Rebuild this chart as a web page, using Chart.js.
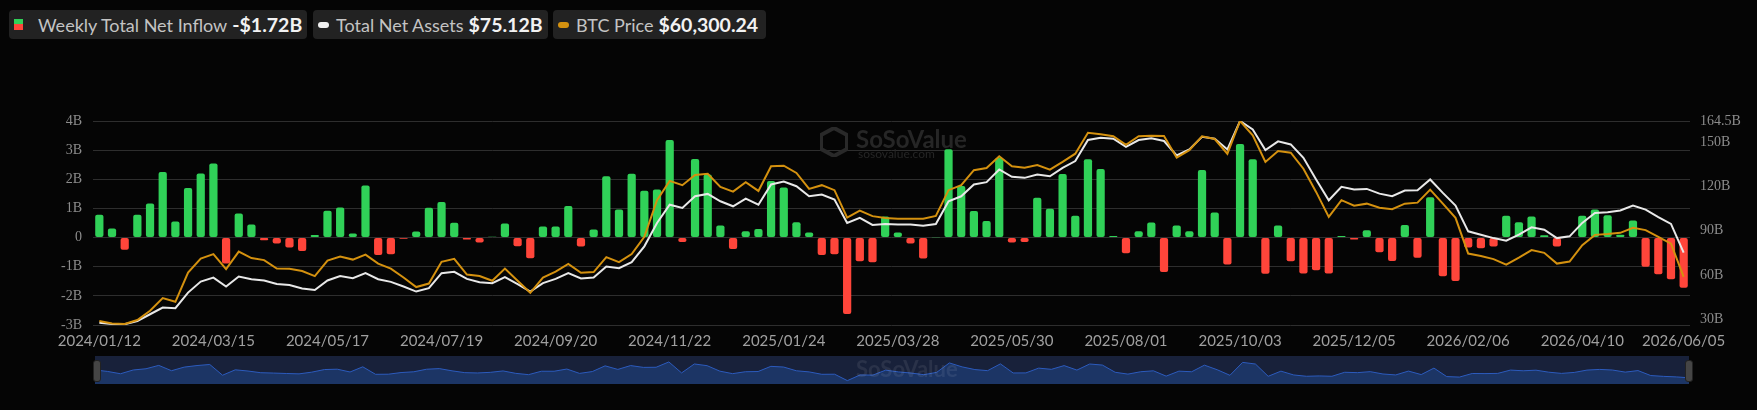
<!DOCTYPE html>
<html>
<head>
<meta charset="utf-8">
<script src="https://cdn.jsdelivr.net/npm/chart.js@4.4.1/dist/chart.umd.min.js"></script>
<style>
  html, body { margin: 0; padding: 0; background: #050505; width: 1757px; height: 410px; overflow: hidden; font-family: Lato, "Open Sans", sans-serif; }
  .item { position: absolute; top: 10px; height: 29px; background: #222; border-radius: 4px; display: flex; align-items: center; color: #c4c4c4; font-size: 18px; white-space: nowrap; }
  .item b { color: #f2f2f2; font-size: 19.5px; margin-left: 5px; }
  .sq { width: 9px; height: 11px; margin: 0 15px 0 5px; background: linear-gradient(#30d158 50%, #ff453a 50%); }
  .pill { width: 11px; height: 6px; border-radius: 3px; margin: 0 7px 0 5px; }
  #main { position: absolute; left: 0; top: 0; }
  .wm { position: absolute; color: #262626; font-weight: bold; }
  #slider { position: absolute; left: 95px; top: 356px; width: 1594px; height: 28px; background: #18213a; }
  .handle { position: absolute; top: 360px; width: 6px; height: 20px; background: #454545; border: 1px solid #222; border-radius: 3px; }
</style>
</head>
<body>
<div class="item" style="left:9px;width:298px"><span class="sq"></span>Weekly Total Net Inflow<b>-$1.72B</b></div>
<div class="item" style="left:313px;width:235px"><span class="pill" style="background:#f0f0f0"></span>Total Net Assets<b>$75.12B</b></div>
<div class="item" style="left:553px;width:213px"><span class="pill" style="background:#d4910f"></span>BTC Price<b>$60,300.24</b></div>

<canvas id="main" width="1757" height="360"></canvas>
<svg style="position:absolute;left:820px;top:127px" width="28" height="30" viewBox="0 0 28 30">
  <path d="M14 1 L27 8 L27 22 L14 29 L1 22 L1 8 Z" fill="none" stroke="#292929" stroke-width="4"/>
</svg>
<div class="wm" style="left:856px;top:124px;font-size:24px">SoSoValue</div>
<div class="wm" style="left:858px;top:146px;font-size:12px;font-weight:normal">sosovalue.com</div>

<div id="slider"><canvas id="mini" width="1594" height="28"></canvas></div>
<div class="wm" style="left:856px;top:355px;font-size:22px;color:rgba(255,255,255,0.08)">SoSoValue</div>
<div class="handle" style="left:93px"></div>
<div class="handle" style="left:1685px"></div>

<script>
// weekly dates from 2024/01/12 to 2026/06/05
const startDate = new Date(Date.UTC(2024, 0, 12));
const weekCount = 126;
const weeks = [];
for (let i = 0; i < weekCount; i++) {
    const d = new Date(startDate.getTime() + i * 7 * 86400000);
    weeks.push(d.getUTCFullYear() + '/' + String(d.getUTCMonth() + 1).padStart(2, '0') + '/' + String(d.getUTCDate()).padStart(2, '0'));
}

const tickLabels = ['2024/01/12', '2024/03/15', '2024/05/17', '2024/07/19', '2024/09/20', '2024/11/22',
    '2025/01/24', '2025/03/28', '2025/05/30', '2025/08/01', '2025/10/03', '2025/12/05',
    '2026/02/06', '2026/04/10', '2026/06/05'];

// weekly total net inflow, billions USD
const netInflow = [
    0.78, 0.31, -0.42, 0.78, 1.17, 2.25, 0.55, 1.70, 2.20, 2.54, -0.89, 0.83, 0.45, -0.09, -0.20, -0.34, -0.46, 0.09,
    0.92, 1.03, 0.14, 1.79, -0.60, -0.57, -0.04, 0.21, 1.02, 1.22, 0.51, -0.07, -0.17, 0.03, 0.48, -0.30, -0.71,
    0.38, 0.38, 1.08, -0.31, 0.28, 2.10, 0.96, 2.19, 1.61, 1.65, 3.35, -0.15, 2.70, 2.16, 0.41, -0.39, 0.22, 0.29,
    1.94, 1.72, 0.53, 0.17, -0.60, -0.57, -2.62, -0.81, -0.85, 0.72, 0.17, -0.20, -0.72, 0.01, 3.03,
    1.77, 0.91, 0.57, 2.73, -0.17, -0.15, 1.37, 0.99, 2.18, 0.75, 2.69, 2.35, 0.05, -0.54, 0.22, 0.52, -1.18,
    0.41, 0.22, 2.32, 0.86, -0.92, 3.21, 2.69, -1.24, 0.41, -0.81, -1.23, -1.12, -1.23, 0.05, -0.07, 0.25,
    -0.50, -0.80, 0.43, -0.69, 1.38, -1.33, -1.49, -0.34, -0.37, -0.31, 0.75, 0.53, 0.72, 0.08, -0.31, 0.00,
    0.75, 0.96, 0.77, 0.10, 0.59, -1.00, -1.26, -1.43, -1.72
];

// total net assets, billions USD
const totalNetAssets = [
    27.6, 26.7, 26.5, 28.7, 33.3, 37.8, 37.4, 48.0, 55.5, 58.2, 52.1, 58.9, 57.1, 56.2, 53.9, 53.2, 50.8, 49.8,
    56.2, 59.2, 57.8, 61.2, 57.1, 55.3, 52.1, 48.7, 51.0, 61.2, 62.1, 57.3, 55.1, 54.4, 58.5, 53.7, 48.7,
    54.4, 57.3, 61.2, 57.6, 58.2, 65.7, 64.6, 68.7, 79.4, 95.3, 107.7, 105.5, 113.4, 115.0, 110.0, 106.6, 111.8, 107.7,
    121.4, 123.4, 120.2, 113.4, 114.6, 111.2, 95.3, 98.7, 93.9, 94.6, 94.3, 94.3, 93.4, 94.6, 110.0,
    113.4, 121.4, 123.0, 131.6, 126.6, 125.9, 128.2, 127.0, 132.7, 137.3, 151.6, 153.2, 152.5, 147.0, 151.6, 152.7, 150.9,
    141.1, 145.2, 153.8, 152.5, 145.2, 164.5, 158.8, 144.8, 150.7, 148.6, 139.5, 124.8, 110.7, 119.8, 118.0, 118.4,
    115.2, 113.4, 117.3, 117.5, 124.8, 115.7, 107.1, 89.6, 87.3, 85.0, 83.2, 87.3, 92.3, 90.7, 85.0, 86.2,
    95.3, 102.1, 102.5, 103.7, 107.1, 104.3, 99.3, 94.6, 75.1
];

// BTC weekly price, USD
const btcPrice = [
    42600, 41600, 41400, 43000, 46700, 51800, 50300, 62000, 67600, 69400, 63400, 70400, 67800, 67000, 63600, 63500, 62600, 60600,
    66800, 68400, 67200, 69200, 65600, 63600, 60000, 56200, 57600, 66300, 67500, 61200, 60600, 58700, 63600, 58700, 53900,
    60000, 62400, 65500, 61900, 62200, 68200, 66200, 69400, 76300, 91000, 98700, 97000, 101100, 101600, 96300, 94400, 98200, 94700,
    104600, 104800, 101900, 95500, 97000, 95000, 84000, 86800, 84600, 83900, 83600, 83600, 83600, 84700, 95000,
    97000, 103000, 103900, 108600, 104600, 104000, 105100, 103200, 106300, 109600, 118000, 117400, 116600, 113200, 116600, 116800, 116700,
    108000, 111000, 116600, 115500, 109600, 122700, 117000, 106300, 110700, 110000, 103600, 94300, 84300, 91000, 88800, 89600,
    88000, 87400, 89600, 90000, 95200, 89600, 83900, 69600, 68600, 67400, 65200, 68000, 71000, 69900, 65600, 66400,
    73000, 77100, 77400, 77900, 79900, 79000, 76300, 73600, 60300
];

const rightTicks = [30, 60, 90, 120, 150, 164.5];

const upColor = '#30d158';
const downColor = '#ff453a';
const tnaColor = '#e8e8e8';
const btcColor = '#d4910f';

const serifTick = { family: '"Liberation Serif", "Times New Roman", serif', size: 14 };

new Chart(document.getElementById('main'), {
    data: {
        labels: weeks,
        datasets: [
            {
                type: 'line',
                label: 'BTC Price',
                data: btcPrice,
                yAxisID: 'yBtc',
                borderColor: btcColor,
                borderWidth: 2,
                pointRadius: 0,
                tension: 0,
                order: 1
            },
            {
                type: 'line',
                label: 'Total Net Assets',
                data: totalNetAssets,
                yAxisID: 'yAssets',
                borderColor: tnaColor,
                borderWidth: 2,
                pointRadius: 0,
                tension: 0,
                order: 2
            },
            {
                type: 'bar',
                label: 'Weekly Total Net Inflow',
                data: netInflow,
                yAxisID: 'y',
                backgroundColor: netInflow.map(v => v >= 0 ? upColor : downColor),
                borderRadius: 2,
                borderSkipped: false,
                barPercentage: 0.65,
                categoryPercentage: 1,
                order: 3
            }
        ]
    },
    options: {
        responsive: false,
        animation: false,
        devicePixelRatio: 1,
        layout: { padding: { top: 121, left: 0, right: 0, bottom: 0 } },
        plugins: { legend: { display: false }, tooltip: { enabled: false } },
        scales: {
            x: {
                offset: true,
                grid: { display: false, drawTicks: false },
                border: { display: false },
                afterFit: s => { s.height = 35; },
                ticks: {
                    autoSkip: false,
                    maxRotation: 0,
                    padding: 7,
                    color: '#a0a0a0',
                    font: { family: 'Lato, "Open Sans", sans-serif', size: 15 },
                    callback: function (v) {
                        const lab = weeks[v];
                        return tickLabels.includes(lab) ? lab : '';
                    }
                }
            },
            y: {
                position: 'left',
                min: -3,
                max: 4,
                afterFit: s => { s.width = 93; },
                grid: { color: '#2e2e2e', lineWidth: 1, drawTicks: false },
                border: { display: false },
                ticks: {
                    stepSize: 1,
                    padding: 11,
                    color: '#8c8c8c',
                    font: serifTick,
                    callback: v => v === 0 ? '0' : v + 'B'
                }
            },
            yAssets: {
                position: 'right',
                min: 26,
                max: 164.5,
                afterFit: s => { s.width = 67; },
                afterBuildTicks: s => { s.ticks = rightTicks.map(v => ({ value: v })); },
                grid: { display: false, drawTicks: false },
                border: { display: false },
                ticks: {
                    padding: 10,
                    color: '#8c8c8c',
                    font: serifTick,
                    callback: v => v + 'B'
                }
            },
            yBtc: {
                display: false,
                min: 41000,
                max: 122700
            }
        }
    }
});

// data zoom strip under the chart
new Chart(document.getElementById('mini'), {
    type: 'line',
    data: {
        labels: weeks,
        datasets: [{
            data: netInflow,
            borderColor: '#2c5bbd',
            borderWidth: 1,
            backgroundColor: '#1c3565',
            fill: 'start',
            pointRadius: 0,
            tension: 0
        }]
    },
    options: {
        responsive: false,
        animation: false,
        devicePixelRatio: 1,
        plugins: { legend: { display: false }, tooltip: { enabled: false } },
        scales: {
            x: { display: false, offset: false },
            y: { display: false, min: -3.7, max: 5.25 }
        }
    }
});
</script>
</body>
</html>
